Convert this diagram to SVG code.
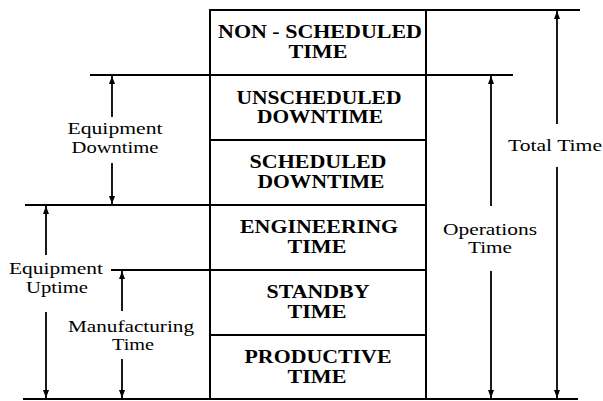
<svg xmlns="http://www.w3.org/2000/svg" width="603" height="401" viewBox="0 0 603 401">
<style>
.box{fill:#fff;stroke:#000;stroke-width:2}
.bt{font-family:"Liberation Serif","Times New Roman",serif;font-weight:bold;font-size:18px;fill:#000;text-anchor:middle}
.lt{font-family:"Liberation Serif","Times New Roman",serif;font-size:16px;fill:#000;text-anchor:middle}
.ln{stroke:#000;stroke-width:1.8;fill:none}
.ar{stroke:#000;stroke-width:1.8;fill:none;marker-end:url(#ah)}
</style>
<defs>
<marker id="ah" viewBox="0 0 8 6" refX="8" refY="3" markerWidth="8" markerHeight="6" markerUnits="userSpaceOnUse" orient="auto">
<path d="M0,0 L8,3 L0,6 z" fill="#000"/>
</marker>
</defs>
<rect width="603" height="401" fill="#fff"/>
<g id="non-scheduled-time">
<rect class="box" x="210" y="10" width="216" height="65"/>
<text class="bt" x="320" y="38" textLength="204" lengthAdjust="spacingAndGlyphs">NON - SCHEDULED</text>
<text class="bt" x="318" y="58" textLength="59" lengthAdjust="spacingAndGlyphs">TIME</text>
</g>
<g id="unscheduled-downtime">
<rect class="box" x="210" y="75" width="216" height="65"/>
<text class="bt" x="319" y="104" textLength="165" lengthAdjust="spacingAndGlyphs">UNSCHEDULED</text>
<text class="bt" x="320" y="123" textLength="126" lengthAdjust="spacingAndGlyphs">DOWNTIME</text>
</g>
<g id="scheduled-downtime">
<rect class="box" x="210" y="140" width="216" height="65"/>
<text class="bt" x="318" y="168" textLength="137" lengthAdjust="spacingAndGlyphs">SCHEDULED</text>
<text class="bt" x="321" y="188" textLength="127" lengthAdjust="spacingAndGlyphs">DOWNTIME</text>
</g>
<g id="engineering-time">
<rect class="box" x="210" y="205" width="216" height="65"/>
<text class="bt" x="319" y="233" textLength="158" lengthAdjust="spacingAndGlyphs">ENGINEERING</text>
<text class="bt" x="317" y="253" textLength="59" lengthAdjust="spacingAndGlyphs">TIME</text>
</g>
<g id="standby-time">
<rect class="box" x="210" y="270" width="216" height="65"/>
<text class="bt" x="318" y="298" textLength="103" lengthAdjust="spacingAndGlyphs">STANDBY</text>
<text class="bt" x="317" y="318" textLength="59" lengthAdjust="spacingAndGlyphs">TIME</text>
</g>
<g id="productive-time">
<rect class="box" x="210" y="335" width="216" height="64"/>
<text class="bt" x="318" y="363" textLength="147" lengthAdjust="spacingAndGlyphs">PRODUCTIVE</text>
<text class="bt" x="317" y="383" textLength="59" lengthAdjust="spacingAndGlyphs">TIME</text>
</g>
<g id="equipment-downtime">
<text class="lt" x="115" y="134" textLength="95" lengthAdjust="spacingAndGlyphs">Equipment</text>
<text class="lt" x="115" y="153" textLength="87" lengthAdjust="spacingAndGlyphs">Downtime</text>
</g>
<g id="equipment-uptime">
<text class="lt" x="56" y="274" textLength="94" lengthAdjust="spacingAndGlyphs">Equipment</text>
<text class="lt" x="57" y="293" textLength="62" lengthAdjust="spacingAndGlyphs">Uptime</text>
</g>
<g id="manufacturing-time">
<text class="lt" x="131" y="332" textLength="126" lengthAdjust="spacingAndGlyphs">Manufacturing</text>
<text class="lt" x="133" y="350" textLength="42" lengthAdjust="spacingAndGlyphs">Time</text>
</g>
<g id="operations-time">
<text class="lt" x="490" y="235" textLength="94" lengthAdjust="spacingAndGlyphs">Operations</text>
<text class="lt" x="490" y="253" textLength="44" lengthAdjust="spacingAndGlyphs">Time</text>
</g>
<g id="total-time">
<text class="lt" x="555" y="151" textLength="94" lengthAdjust="spacingAndGlyphs">Total Time</text>
</g>
<g id="connectors">
<line class="ln" x1="426" y1="10" x2="580" y2="10"/>
<line class="ln" x1="90" y1="75" x2="513" y2="75"/>
<line class="ln" x1="25" y1="205" x2="210" y2="205"/>
<line class="ln" x1="111" y1="270" x2="210" y2="270"/>
<line class="ln" x1="23" y1="399" x2="578" y2="399"/>
<line class="ar" x1="112" y1="117" x2="112" y2="76"/>
<line class="ar" x1="112" y1="163" x2="112" y2="204"/>
<line class="ar" x1="46" y1="255" x2="46" y2="206"/>
<line class="ar" x1="46" y1="312" x2="46" y2="398"/>
<line class="ar" x1="122" y1="311" x2="122" y2="271"/>
<line class="ar" x1="122" y1="359" x2="122" y2="398"/>
<line class="ar" x1="491" y1="206" x2="491" y2="76"/>
<line class="ar" x1="491" y1="271" x2="491" y2="398"/>
<line class="ar" x1="557" y1="124" x2="557" y2="11"/>
<line class="ar" x1="557" y1="167" x2="557" y2="398"/>
</g>
</svg>
